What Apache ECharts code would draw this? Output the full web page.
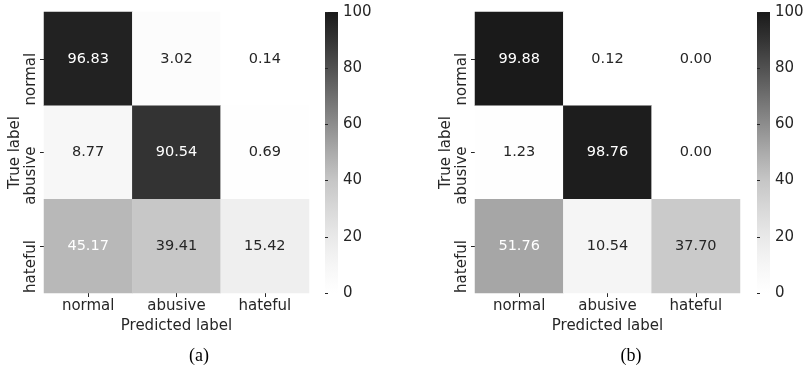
<!DOCTYPE html>
<html>
<head>
<meta charset="utf-8">
<script src="https://cdn.jsdelivr.net/npm/echarts@6/dist/echarts.min.js"></script>
<style>
html,body{margin:0;padding:0;background:#ffffff;}
#chart{width:807px;height:368px;}
</style>
</head>
<body>
<div id="chart"></div>
<script>
// ---- data ----
const predictedLabels = ['normal', 'abusive', 'hateful'];
const trueLabels = ['normal', 'abusive', 'hateful'];
// rows = true label, columns = predicted label
const matrixA = [
  [96.83, 3.02, 0.14],
  [8.77, 90.54, 0.69],
  [45.17, 39.41, 15.42]
];
const matrixB = [
  [99.88, 0.12, 0.00],
  [1.23, 98.76, 0.00],
  [51.76, 10.54, 37.70]
];
const colorbarMin = 0;
const colorbarMax = 100;
const colorbarStep = 20;
const captions = ['(a)', '(b)'];

// ---- style ----
const FONT = 'DejaVu Sans';
const TXT = '#262626';
const cmap = ['#ffffff', '#f6f6f6', '#e9e9e9', '#d8d8d8', '#c6c6c6', '#ababab',
              '#8d8d8d', '#6f6f6f', '#515151', '#343434', '#1a1a1a'];

function cells(matrix) {
  const out = [];
  matrix.forEach((row, i) => row.forEach((v, j) => {
    out.push({ value: [j, i, v], label: { color: v > 42 ? '#ffffff' : TXT } });
  }));
  return out;
}

// vertical gradient for the colour bar (top = max)
const barGradient = new echarts.graphic.LinearGradient(0, 0, 0, 1,
  cmap.slice().reverse().map((c, i, a) => ({ offset: i / (a.length - 1), color: c })));

const panels = [
  { left: 44, cbLeft: 325, matrix: matrixA, cap: captions[0], capX: 199 },
  { left: 475, cbLeft: 757, matrix: matrixB, cap: captions[1], capX: 631 }
];

const grid = [], xAxis = [], yAxis = [], series = [], visualMap = [], graphic = [];
panels.forEach((p, k) => {
  const gi = grid.length;
  grid.push({ left: p.left, top: 12, width: 265, height: 281 });
  xAxis.push({
    type: 'category', gridIndex: gi, data: predictedLabels,
    axisLine: { show: false },
    axisTick: { show: true, alignWithLabel: true, length: 4, lineStyle: { color: TXT } },
    axisLabel: { fontFamily: FONT, fontSize: 15, color: TXT, margin: 6 },
    splitLine: { show: false },
    name: 'Predicted label', nameLocation: 'middle', nameGap: 25,
    nameTextStyle: { fontFamily: FONT, fontSize: 15, color: TXT }
  });
  yAxis.push({
    type: 'category', gridIndex: gi, data: trueLabels, inverse: true,
    axisLine: { show: false },
    axisTick: { show: true, alignWithLabel: true, length: 4, lineStyle: { color: TXT } },
    axisLabel: { fontFamily: FONT, fontSize: 15, color: TXT, rotate: 90, margin: 5,
                 align: 'right', verticalAlign: 'bottom', padding: [0, -6, 0, 0] },
    splitLine: { show: false },
    name: 'True label', nameLocation: 'middle', nameRotate: 90, nameGap: 19,
    nameTextStyle: { fontFamily: FONT, fontSize: 15, color: TXT }
  });
  series.push({
    type: 'heatmap', xAxisIndex: gi, yAxisIndex: gi,
    data: cells(p.matrix),
    label: { show: true, fontFamily: FONT, fontSize: 14.5,
             formatter: q => q.value[2].toFixed(2) },
    emphasis: { disabled: true }
  });
  visualMap.push({
    type: 'continuous', seriesIndex: series.length - 1, show: false,
    min: colorbarMin, max: colorbarMax,
    inRange: { color: cmap }
  });
  // colour bar: a grid whose background is the colour map, plus a tick axis
  const ci = grid.length;
  grid.push({ left: p.cbLeft, top: 12, width: 13, height: 281, show: true,
              backgroundColor: barGradient, borderWidth: 0 });
  xAxis.push({ type: 'value', gridIndex: ci, show: false, min: 0, max: 1 });
  yAxis.push({
    type: 'value', gridIndex: ci, position: 'right',
    min: colorbarMin, max: colorbarMax, interval: colorbarStep,
    axisLine: { show: false },
    axisTick: { show: true, length: 3, lineStyle: { color: TXT } },
    axisLabel: { fontFamily: FONT, fontSize: 15, color: TXT, margin: 5 },
    splitLine: { show: false }
  });
  graphic.push({
    type: 'text', x: p.capX, y: 356,
    style: { text: p.cap, fontFamily: 'Liberation Serif', fontSize: 18, fill: '#000000',
             align: 'center', verticalAlign: 'middle' }
  });
});

const chart = echarts.init(document.getElementById('chart'), null, { renderer: 'canvas' });
chart.setOption({
  animation: false,
  backgroundColor: '#ffffff',
  grid, xAxis, yAxis, series, visualMap, graphic
});
</script>
</body>
</html>
